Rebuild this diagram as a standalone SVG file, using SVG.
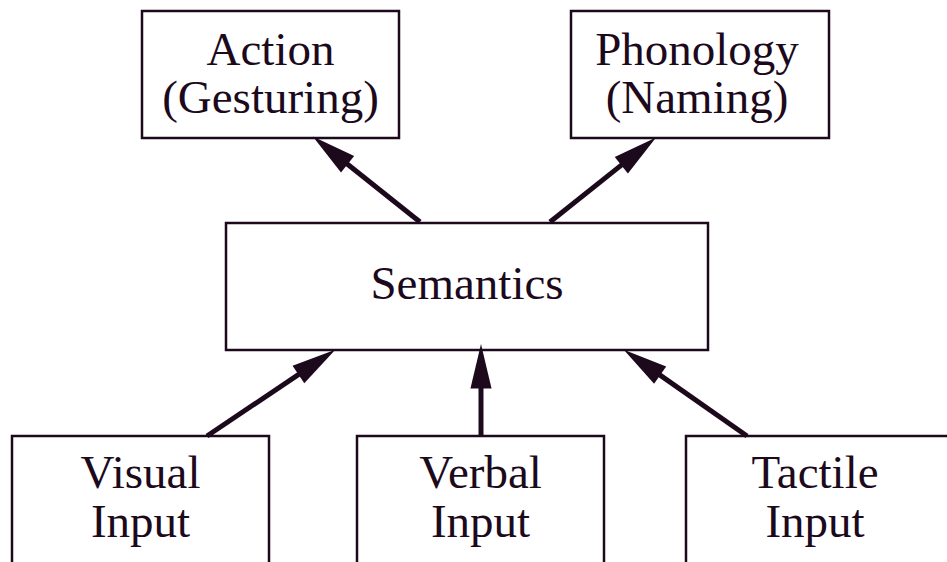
<svg xmlns="http://www.w3.org/2000/svg" width="947" height="562" viewBox="0 0 947 562">
  <style>
    .box { fill: #ffffff; stroke: #1c0a1c; stroke-width: 2.5; }
    .label { font-family: "Liberation Serif", "Times New Roman", serif; font-size: 47px; fill: #1c0a1c; text-anchor: middle; }
    .edge { stroke: #1c0a1c; stroke-width: 5; fill: none; marker-end: url(#head); }
  </style>
  <defs>
    <marker id="head" markerUnits="userSpaceOnUse" markerWidth="50" markerHeight="30" viewBox="-5 -12 45 24" refX="0" refY="0" orient="auto">
      <path d="M-4,-9.5 L36,0 L-4,9.5 Z" fill="#1c0a1c"/>
    </marker>
  </defs>
  <rect width="947" height="562" fill="#ffffff"/>

  <g id="action">
    <rect class="box" x="142" y="11" width="257" height="127"/>
    <text class="label" x="270.5" y="65">Action</text>
    <text class="label" x="270.5" y="113">(Gesturing)</text>
  </g>

  <g id="phonology">
    <rect class="box" x="571" y="11" width="258" height="127"/>
    <text class="label" x="697" y="65">Phonology</text>
    <text class="label" x="697" y="113">(Naming)</text>
  </g>

  <g id="semantics">
    <rect class="box" x="226" y="223" width="482" height="127"/>
    <text class="label" x="467" y="299">Semantics</text>
  </g>

  <g id="visual-input">
    <rect class="box" x="12" y="436" width="257" height="140"/>
    <text class="label" x="140.5" y="488">Visual</text>
    <text class="label" x="140.5" y="537">Input</text>
  </g>

  <g id="verbal-input">
    <rect class="box" x="357" y="436" width="247" height="140"/>
    <text class="label" x="480.5" y="488">Verbal</text>
    <text class="label" x="480.5" y="537">Input</text>
  </g>

  <g id="tactile-input">
    <rect class="box" x="686" y="436" width="280" height="140"/>
    <text class="label" x="815" y="488">Tactile</text>
    <text class="label" x="815" y="537">Input</text>
  </g>

  <g id="connectors">
    <line class="edge" x1="420" y1="222" x2="344.1" y2="161.5"/>
    <line class="edge" x1="550" y1="222" x2="624.8" y2="162.4"/>
    <line class="edge" x1="207" y1="436" x2="302.1" y2="372.1"/>
    <line class="edge" x1="481" y1="436" x2="481" y2="384"/>
    <line class="edge" x1="747" y1="436" x2="656.5" y2="372.6"/>
  </g>
</svg>
